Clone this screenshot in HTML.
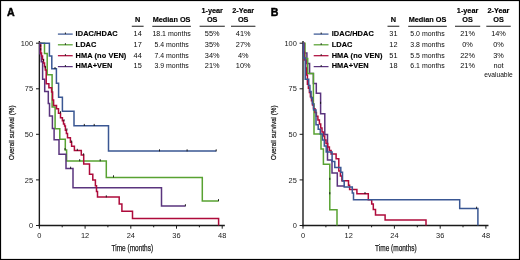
<!DOCTYPE html>
<html><head><meta charset="utf-8"><style>
html,body{margin:0;padding:0;background:#fff;}
body{width:520px;height:260px;overflow:hidden;}
svg{display:block;}
svg{will-change:transform;}
text{font-family:"Liberation Sans",sans-serif;fill:#1a1a1a;}
.pl{font-size:10.6px;font-weight:bold;fill:#000;stroke:#000;stroke-width:0.45px;}
.lg{font-size:7.4px;font-weight:bold;fill:#000;stroke:#000;stroke-width:0.15px;letter-spacing:0.08px;}
.hd{font-size:7.3px;font-weight:bold;fill:#000;stroke:#000;stroke-width:0.15px;}
.tv{font-size:7.35px;fill:#0a0a0a;}
.tk{font-size:8.0px;fill:#1a1a1a;}
.at{font-size:8.8px;fill:#1a1a1a;stroke:#1a1a1a;stroke-width:0.25px;}
.at2{font-size:7.5px;fill:#1a1a1a;stroke:#1a1a1a;stroke-width:0.25px;}
</style></head><body>
<svg width="520" height="260" viewBox="0 0 520 260">
<rect x="0.5" y="0.5" width="519" height="259" fill="#fff" stroke="#000" stroke-width="1.2"/>
<text x="7.0" y="16.1" class="pl">A</text>
<text x="270.8" y="16.1" class="pl">B</text>
<line x1="39.35" y1="41.0" x2="39.35" y2="226.2" stroke="#1a1a1a" stroke-width="1.4"/><line x1="38.65" y1="225.5" x2="224.83" y2="225.5" stroke="#1a1a1a" stroke-width="1.4"/><line x1="36.0" y1="225.5" x2="39.4" y2="225.5" stroke="#1a1a1a" stroke-width="1"/><text transform="translate(33.15,228.20) scale(0.93,1)" text-anchor="end" class="tk">0</text><line x1="36.0" y1="179.9" x2="39.4" y2="179.9" stroke="#1a1a1a" stroke-width="1"/><text transform="translate(33.15,182.62) scale(0.93,1)" text-anchor="end" class="tk">25</text><line x1="36.0" y1="134.3" x2="39.4" y2="134.3" stroke="#1a1a1a" stroke-width="1"/><text transform="translate(33.15,137.05) scale(0.93,1)" text-anchor="end" class="tk">50</text><line x1="36.0" y1="88.8" x2="39.4" y2="88.8" stroke="#1a1a1a" stroke-width="1"/><text transform="translate(33.15,91.48) scale(0.93,1)" text-anchor="end" class="tk">75</text><line x1="36.0" y1="43.2" x2="39.4" y2="43.2" stroke="#1a1a1a" stroke-width="1"/><text transform="translate(33.15,45.90) scale(0.93,1)" text-anchor="end" class="tk">100</text><line x1="39.4" y1="225.5" x2="39.4" y2="228.7" stroke="#1a1a1a" stroke-width="1"/><text transform="translate(39.35,238.10) scale(0.93,1)" text-anchor="middle" class="tk">0</text><line x1="62.2" y1="225.5" x2="62.2" y2="227.3" stroke="#1a1a1a" stroke-width="1"/><line x1="85.1" y1="225.5" x2="85.1" y2="228.7" stroke="#1a1a1a" stroke-width="1"/><text transform="translate(85.07,238.10) scale(0.93,1)" text-anchor="middle" class="tk">12</text><line x1="107.9" y1="225.5" x2="107.9" y2="227.3" stroke="#1a1a1a" stroke-width="1"/><line x1="130.8" y1="225.5" x2="130.8" y2="228.7" stroke="#1a1a1a" stroke-width="1"/><text transform="translate(130.79,238.10) scale(0.93,1)" text-anchor="middle" class="tk">24</text><line x1="153.7" y1="225.5" x2="153.7" y2="227.3" stroke="#1a1a1a" stroke-width="1"/><line x1="176.5" y1="225.5" x2="176.5" y2="228.7" stroke="#1a1a1a" stroke-width="1"/><text transform="translate(176.51,238.10) scale(0.93,1)" text-anchor="middle" class="tk">36</text><line x1="199.4" y1="225.5" x2="199.4" y2="227.3" stroke="#1a1a1a" stroke-width="1"/><line x1="222.2" y1="225.5" x2="222.2" y2="228.7" stroke="#1a1a1a" stroke-width="1"/><text transform="translate(222.23,238.10) scale(0.93,1)" text-anchor="middle" class="tk">48</text>
<line x1="303.00" y1="41.0" x2="303.00" y2="226.2" stroke="#1a1a1a" stroke-width="1.4"/><line x1="302.30" y1="225.5" x2="488.48" y2="225.5" stroke="#1a1a1a" stroke-width="1.4"/><line x1="299.6" y1="225.5" x2="303.0" y2="225.5" stroke="#1a1a1a" stroke-width="1"/><text transform="translate(296.80,228.20) scale(0.93,1)" text-anchor="end" class="tk">0</text><line x1="299.6" y1="179.9" x2="303.0" y2="179.9" stroke="#1a1a1a" stroke-width="1"/><text transform="translate(296.80,182.62) scale(0.93,1)" text-anchor="end" class="tk">25</text><line x1="299.6" y1="134.3" x2="303.0" y2="134.3" stroke="#1a1a1a" stroke-width="1"/><text transform="translate(296.80,137.05) scale(0.93,1)" text-anchor="end" class="tk">50</text><line x1="299.6" y1="88.8" x2="303.0" y2="88.8" stroke="#1a1a1a" stroke-width="1"/><text transform="translate(296.80,91.48) scale(0.93,1)" text-anchor="end" class="tk">75</text><line x1="299.6" y1="43.2" x2="303.0" y2="43.2" stroke="#1a1a1a" stroke-width="1"/><text transform="translate(296.80,45.90) scale(0.93,1)" text-anchor="end" class="tk">100</text><line x1="303.0" y1="225.5" x2="303.0" y2="228.7" stroke="#1a1a1a" stroke-width="1"/><text transform="translate(303.00,238.10) scale(0.93,1)" text-anchor="middle" class="tk">0</text><line x1="325.9" y1="225.5" x2="325.9" y2="227.3" stroke="#1a1a1a" stroke-width="1"/><line x1="348.7" y1="225.5" x2="348.7" y2="228.7" stroke="#1a1a1a" stroke-width="1"/><text transform="translate(348.72,238.10) scale(0.93,1)" text-anchor="middle" class="tk">12</text><line x1="371.6" y1="225.5" x2="371.6" y2="227.3" stroke="#1a1a1a" stroke-width="1"/><line x1="394.4" y1="225.5" x2="394.4" y2="228.7" stroke="#1a1a1a" stroke-width="1"/><text transform="translate(394.44,238.10) scale(0.93,1)" text-anchor="middle" class="tk">24</text><line x1="417.3" y1="225.5" x2="417.3" y2="227.3" stroke="#1a1a1a" stroke-width="1"/><line x1="440.2" y1="225.5" x2="440.2" y2="228.7" stroke="#1a1a1a" stroke-width="1"/><text transform="translate(440.16,238.10) scale(0.93,1)" text-anchor="middle" class="tk">36</text><line x1="463.0" y1="225.5" x2="463.0" y2="227.3" stroke="#1a1a1a" stroke-width="1"/><line x1="485.9" y1="225.5" x2="485.9" y2="228.7" stroke="#1a1a1a" stroke-width="1"/><text transform="translate(485.88,238.10) scale(0.93,1)" text-anchor="middle" class="tk">48</text>
<text x="132.3" y="250.8" class="at" text-anchor="middle" textLength="41.6" lengthAdjust="spacingAndGlyphs">Time (months)</text><text transform="translate(14.1,132.7) rotate(-90)" x="0" y="0" class="at2" text-anchor="middle" textLength="54.5" lengthAdjust="spacingAndGlyphs">Overall survival (%)</text>
<text x="395.9" y="250.8" class="at" text-anchor="middle" textLength="41.6" lengthAdjust="spacingAndGlyphs">Time (months)</text><text transform="translate(276.2,132.7) rotate(-90)" x="0" y="0" class="at2" text-anchor="middle" textLength="54.5" lengthAdjust="spacingAndGlyphs">Overall survival (%)</text>
<line x1="57.9" y1="34.1" x2="72.7" y2="34.1" stroke="#3a5793" stroke-width="1.25"/><line x1="65.4" y1="32.5" x2="65.4" y2="34.1" stroke="#111" stroke-width="0.9"/><text x="75.6" y="35.9" class="lg">IDAC/HDAC</text><text x="137.7" y="35.9" class="tv" text-anchor="middle">14</text><text x="171.6" y="35.9" class="tv" text-anchor="middle" textLength="38.45" lengthAdjust="spacingAndGlyphs">18.1 months</text><text x="212.2" y="35.9" class="tv" text-anchor="middle">55%</text><text x="243.2" y="35.9" class="tv" text-anchor="middle">41%</text><line x1="57.9" y1="44.8" x2="72.7" y2="44.8" stroke="#58a232" stroke-width="1.25"/><line x1="65.4" y1="43.2" x2="65.4" y2="44.8" stroke="#111" stroke-width="0.9"/><text x="75.6" y="46.6" class="lg">LDAC</text><text x="137.7" y="46.6" class="tv" text-anchor="middle">17</text><text x="171.6" y="46.6" class="tv" text-anchor="middle" textLength="34.36" lengthAdjust="spacingAndGlyphs">5.4 months</text><text x="212.2" y="46.6" class="tv" text-anchor="middle">35%</text><text x="243.2" y="46.6" class="tv" text-anchor="middle">27%</text><line x1="57.9" y1="55.7" x2="72.7" y2="55.7" stroke="#ae0b3b" stroke-width="1.25"/><line x1="65.4" y1="54.1" x2="65.4" y2="55.7" stroke="#111" stroke-width="0.9"/><text x="75.6" y="57.5" class="lg">HMA (no VEN)</text><text x="137.7" y="57.5" class="tv" text-anchor="middle">44</text><text x="171.6" y="57.5" class="tv" text-anchor="middle" textLength="34.36" lengthAdjust="spacingAndGlyphs">7.4 months</text><text x="212.2" y="57.5" class="tv" text-anchor="middle">34%</text><text x="243.2" y="57.5" class="tv" text-anchor="middle">4%</text><line x1="57.9" y1="66.6" x2="72.7" y2="66.6" stroke="#5a347e" stroke-width="1.25"/><line x1="65.4" y1="65.0" x2="65.4" y2="66.6" stroke="#111" stroke-width="0.9"/><text x="75.6" y="68.4" class="lg">HMA+VEN</text><text x="137.7" y="68.4" class="tv" text-anchor="middle">15</text><text x="171.6" y="68.4" class="tv" text-anchor="middle" textLength="34.36" lengthAdjust="spacingAndGlyphs">3.9 months</text><text x="212.2" y="68.4" class="tv" text-anchor="middle">21%</text><text x="243.2" y="68.4" class="tv" text-anchor="middle">10%</text><text x="137.7" y="21.6" class="hd" text-anchor="middle">N</text><text x="171.6" y="21.6" class="hd" text-anchor="middle">Median OS</text><text x="212.2" y="12.9" class="hd" text-anchor="middle">1-year</text><text x="212.2" y="21.6" class="hd" text-anchor="middle">OS</text><text x="243.2" y="12.9" class="hd" text-anchor="middle">2-Year</text><text x="243.2" y="21.6" class="hd" text-anchor="middle">OS</text><line x1="131.8" y1="26.3" x2="143.6" y2="26.3" stroke="#474747" stroke-width="1.25"/><line x1="152.3" y1="26.3" x2="190.9" y2="26.3" stroke="#474747" stroke-width="1.25"/><line x1="199.6" y1="26.3" x2="224.8" y2="26.3" stroke="#474747" stroke-width="1.25"/><line x1="231.0" y1="26.3" x2="255.4" y2="26.3" stroke="#474747" stroke-width="1.25"/>
<line x1="313.7" y1="34.1" x2="328.5" y2="34.1" stroke="#3a5793" stroke-width="1.25"/><line x1="321.2" y1="32.5" x2="321.2" y2="34.1" stroke="#111" stroke-width="0.9"/><text x="331.7" y="35.9" class="lg">IDAC/HDAC</text><text x="393.4" y="35.9" class="tv" text-anchor="middle">31</text><text x="427.5" y="35.9" class="tv" text-anchor="middle" textLength="34.36" lengthAdjust="spacingAndGlyphs">5.0 months</text><text x="467.6" y="35.9" class="tv" text-anchor="middle">21%</text><text x="498.5" y="35.9" class="tv" text-anchor="middle">14%</text><line x1="313.7" y1="44.8" x2="328.5" y2="44.8" stroke="#58a232" stroke-width="1.25"/><line x1="321.2" y1="43.2" x2="321.2" y2="44.8" stroke="#111" stroke-width="0.9"/><text x="331.7" y="46.6" class="lg">LDAC</text><text x="393.4" y="46.6" class="tv" text-anchor="middle">12</text><text x="427.5" y="46.6" class="tv" text-anchor="middle" textLength="34.36" lengthAdjust="spacingAndGlyphs">3.8 months</text><text x="467.6" y="46.6" class="tv" text-anchor="middle">0%</text><text x="498.5" y="46.6" class="tv" text-anchor="middle">0%</text><line x1="313.7" y1="55.7" x2="328.5" y2="55.7" stroke="#ae0b3b" stroke-width="1.25"/><line x1="321.2" y1="54.1" x2="321.2" y2="55.7" stroke="#111" stroke-width="0.9"/><text x="331.7" y="57.5" class="lg">HMA (no VEN)</text><text x="393.4" y="57.5" class="tv" text-anchor="middle">51</text><text x="427.5" y="57.5" class="tv" text-anchor="middle" textLength="34.36" lengthAdjust="spacingAndGlyphs">5.5 months</text><text x="467.6" y="57.5" class="tv" text-anchor="middle">22%</text><text x="498.5" y="57.5" class="tv" text-anchor="middle">3%</text><line x1="313.7" y1="66.6" x2="328.5" y2="66.6" stroke="#5a347e" stroke-width="1.25"/><line x1="321.2" y1="65.0" x2="321.2" y2="66.6" stroke="#111" stroke-width="0.9"/><text x="331.7" y="68.4" class="lg">HMA+VEN</text><text x="393.4" y="68.4" class="tv" text-anchor="middle">18</text><text x="427.5" y="68.4" class="tv" text-anchor="middle" textLength="34.36" lengthAdjust="spacingAndGlyphs">6.1 months</text><text x="467.6" y="68.4" class="tv" text-anchor="middle">21%</text><text x="498.5" y="68.4" class="tv" text-anchor="middle">not</text><text x="498.5" y="76.9" class="tv" text-anchor="middle" textLength="28.6" lengthAdjust="spacingAndGlyphs">evaluable</text><text x="393.4" y="21.6" class="hd" text-anchor="middle">N</text><text x="427.5" y="21.6" class="hd" text-anchor="middle">Median OS</text><text x="467.6" y="12.9" class="hd" text-anchor="middle">1-year</text><text x="467.6" y="21.6" class="hd" text-anchor="middle">OS</text><text x="498.5" y="12.9" class="hd" text-anchor="middle">2-Year</text><text x="498.5" y="21.6" class="hd" text-anchor="middle">OS</text><line x1="387.5" y1="26.3" x2="399.3" y2="26.3" stroke="#474747" stroke-width="1.25"/><line x1="408.2" y1="26.3" x2="446.8" y2="26.3" stroke="#474747" stroke-width="1.25"/><line x1="455.0" y1="26.3" x2="480.2" y2="26.3" stroke="#474747" stroke-width="1.25"/><line x1="486.3" y1="26.3" x2="510.7" y2="26.3" stroke="#474747" stroke-width="1.25"/>
<path d="M39.4,43.2 L44.5,43.2 L44.5,53.6 L47.2,53.6 L47.2,74.7 L52.1,74.7 L52.1,107.0 L55.1,107.0 L55.1,128.8 L59.8,128.8 L59.8,139.3 L65.3,139.3 L65.3,149.9 L66.6,149.9 L66.6,161.0 L106.3,161.0 L106.3,177.4 L202.3,177.4 L202.3,200.9 L218.5,200.9" fill="none" stroke="#58a232" stroke-width="1.5" stroke-linejoin="miter" stroke-linecap="butt"/>
<line x1="65.0" y1="148.1" x2="65.0" y2="150.2" stroke="#111" stroke-width="0.9"/><line x1="79.7" y1="159.2" x2="79.7" y2="161.3" stroke="#111" stroke-width="0.9"/><line x1="100.2" y1="159.2" x2="100.2" y2="161.3" stroke="#111" stroke-width="0.9"/><line x1="113.5" y1="175.3" x2="113.5" y2="177.4" stroke="#111" stroke-width="0.9"/><line x1="218.5" y1="199.1" x2="218.5" y2="201.2" stroke="#111" stroke-width="0.9"/>
<path d="M39.4,43.2 L39.8,43.2 L39.8,53.7 L41.3,53.7 L41.3,61.7 L42.6,61.7 L42.6,79.3 L44.7,79.3 L44.7,91.5 L48.3,91.5 L48.3,103.5 L49.5,103.5 L49.5,116.0 L52.4,116.0 L52.4,128.6 L54.1,128.6 L54.1,139.8 L59.0,139.8 L59.0,154.3 L66.0,154.3 L66.0,168.5 L73.0,168.5 L73.0,187.8 L161.5,187.8 L161.5,206.0 L185.4,206.0" fill="none" stroke="#5a347e" stroke-width="1.5" stroke-linejoin="miter" stroke-linecap="butt"/>
<line x1="70.6" y1="166.7" x2="70.6" y2="168.8" stroke="#111" stroke-width="0.9"/><line x1="185.4" y1="204.2" x2="185.4" y2="206.3" stroke="#111" stroke-width="0.9"/>
<path d="M39.4,43.2 L40.7,43.2 L40.7,53.0 L41.5,53.0 L41.5,56.0 L42.5,56.0 L42.5,59.5 L43.5,59.5 L43.5,63.0 L44.5,63.0 L44.5,66.5 L45.3,66.5 L45.3,70.0 L46.2,70.0 L46.2,83.8 L48.9,83.8 L48.9,87.7 L51.6,87.7 L51.6,92.0 L52.6,92.0 L52.6,100.0 L53.6,100.0 L53.6,105.5 L56.5,105.5 L56.5,108.8 L58.5,108.8 L58.5,113.2 L60.5,113.2 L60.5,117.7 L62.4,117.7 L62.4,120.8 L63.5,120.8 L63.5,124.0 L64.6,124.0 L64.6,126.0 L65.4,126.0 L65.4,130.2 L66.4,130.2 L66.4,133.5 L67.5,133.5 L67.5,137.7 L70.4,137.7 L70.4,142.3 L71.6,142.3 L71.6,146.3 L74.4,146.3 L74.4,150.6 L81.3,150.6 L81.3,155.1 L83.7,155.1 L83.7,164.0 L89.5,164.0 L89.5,174.2 L92.8,174.2 L92.8,180.0 L95.4,180.0 L95.4,185.8 L96.5,185.8 L96.5,191.5 L97.5,191.5 L97.5,197.1 L119.2,197.1 L119.2,204.1 L121.9,204.1 L121.9,211.3 L132.5,211.3 L132.5,218.4 L218.6,218.4 L218.6,225.5" fill="none" stroke="#ae0b3b" stroke-width="1.5" stroke-linejoin="miter" stroke-linecap="butt"/>
<line x1="83.6" y1="153.3" x2="83.6" y2="155.4" stroke="#111" stroke-width="0.9"/><line x1="106.3" y1="195.3" x2="106.3" y2="197.4" stroke="#111" stroke-width="0.9"/><line x1="40.7" y1="44.7" x2="40.7" y2="46.8" stroke="#111" stroke-width="0.9"/><line x1="40.7" y1="48.2" x2="40.7" y2="50.3" stroke="#111" stroke-width="0.9"/><line x1="43.5" y1="59.2" x2="43.5" y2="61.3" stroke="#111" stroke-width="0.9"/><line x1="45.3" y1="66.2" x2="45.3" y2="68.3" stroke="#111" stroke-width="0.9"/><line x1="60.5" y1="111.2" x2="60.5" y2="113.3" stroke="#111" stroke-width="0.9"/><line x1="64.0" y1="119.2" x2="64.0" y2="121.3" stroke="#111" stroke-width="0.9"/><line x1="66.9" y1="128.4" x2="66.9" y2="130.5" stroke="#111" stroke-width="0.9"/><line x1="71.6" y1="140.5" x2="71.6" y2="142.6" stroke="#111" stroke-width="0.9"/><line x1="77.3" y1="148.8" x2="77.3" y2="150.9" stroke="#111" stroke-width="0.9"/>
<path d="M39.4,43.2 L49.4,43.2 L49.4,56.0 L51.8,56.0 L51.8,68.8 L56.4,68.8 L56.4,83.2 L58.6,83.2 L58.6,97.3 L62.4,97.3 L62.4,111.3 L74.0,111.3 L74.0,125.7 L108.5,125.7 L108.5,151.1 L216.2,151.1" fill="none" stroke="#3a5793" stroke-width="1.5" stroke-linejoin="miter" stroke-linecap="butt"/>
<line x1="55.0" y1="67.0" x2="55.0" y2="69.1" stroke="#111" stroke-width="0.9"/><line x1="84.3" y1="123.9" x2="84.3" y2="126.0" stroke="#111" stroke-width="0.9"/><line x1="94.2" y1="123.9" x2="94.2" y2="126.0" stroke="#111" stroke-width="0.9"/><line x1="159.5" y1="149.3" x2="159.5" y2="151.4" stroke="#111" stroke-width="0.9"/><line x1="187.1" y1="149.3" x2="187.1" y2="151.4" stroke="#111" stroke-width="0.9"/><line x1="216.2" y1="149.3" x2="216.2" y2="151.4" stroke="#111" stroke-width="0.9"/>
<path d="M303.0,43.2 L303.3,43.2 L303.3,53.0 L306.9,53.0 L306.9,63.4 L309.6,63.4 L309.6,73.5 L313.4,73.5 L313.4,83.5 L316.3,83.5 L316.3,93.3 L320.6,93.3 L320.6,113.7 L324.8,113.7 L324.8,134.6 L327.5,134.6 L327.5,160.0 L332.0,160.0 L332.0,173.0 L337.3,173.0 L337.3,185.9 L345.0,185.9" fill="none" stroke="#5a347e" stroke-width="1.5" stroke-linejoin="miter" stroke-linecap="butt"/>
<line x1="320.6" y1="101.8" x2="320.6" y2="103.9" stroke="#111" stroke-width="0.9"/>
<path d="M303.0,43.2 L305.0,43.2 L305.0,58.5 L307.7,58.5 L307.7,73.5 L313.4,73.5 L313.4,104.0 L314.0,104.0 L314.0,134.0 L321.0,134.0 L321.0,149.0 L323.4,149.0 L323.4,164.2 L329.8,164.2 L329.8,209.7 L337.0,209.7 L337.0,225.5" fill="none" stroke="#58a232" stroke-width="1.5" stroke-linejoin="miter" stroke-linecap="butt"/>
<line x1="329.8" y1="177.8" x2="329.8" y2="179.9" stroke="#111" stroke-width="0.9"/><line x1="329.8" y1="192.2" x2="329.8" y2="194.3" stroke="#111" stroke-width="0.9"/>
<path d="M303.0,43.2 L304.0,43.2 L304.0,52.0 L304.4,52.0 L304.4,60.0 L305.8,60.0 L305.8,68.0 L306.4,68.0 L306.4,75.0 L307.4,75.0 L307.4,80.0 L307.4,84.2 L308.4,84.2 L308.4,88.3 L309.4,88.3 L309.4,92.5 L310.4,92.5 L310.4,96.7 L311.5,96.7 L311.5,100.8 L312.5,100.8 L312.5,105.0 L313.5,105.0 L313.5,108.8 L315.0,108.8 L315.0,112.5 L316.4,112.5 L316.4,116.3 L317.9,116.3 L317.9,120.0 L319.4,120.0 L319.4,124.0 L320.7,124.0 L320.7,128.0 L322.0,128.0 L322.0,132.0 L323.4,132.0 L323.4,136.0 L324.7,136.0 L324.7,140.0 L326.0,140.0 L326.0,143.5 L327.7,143.5 L327.7,147.1 L329.4,147.1 L329.4,150.6 L331.1,150.6 L331.1,154.1 L332.8,154.1 L336.1,154.1 L336.1,158.8 L338.8,158.8 L338.8,166.2 L338.8,171.0 L340.4,171.0 L340.4,175.9 L341.9,175.9 L341.9,180.7 L343.5,180.7 L348.5,180.7 L348.5,185.3 L349.6,185.3 L349.6,189.5 L356.9,189.5 L356.9,193.8 L368.3,193.8 L368.3,199.7 L371.7,199.7 L371.7,204.1 L373.3,204.1 L373.3,209.5 L375.5,209.5 L375.5,214.9 L385.1,214.9 L385.1,220.0 L426.0,220.0 L426.0,225.5" fill="none" stroke="#ae0b3b" stroke-width="1.5" stroke-linejoin="miter" stroke-linecap="butt"/>
<line x1="365.0" y1="192.0" x2="365.0" y2="194.1" stroke="#111" stroke-width="0.9"/>
<path d="M303.0,43.2 L303.7,43.2 L303.7,58.0 L305.2,58.0 L305.2,79.2 L308.7,79.2 L308.7,85.4 L309.9,85.4 L309.9,91.5 L311.1,91.5 L311.1,97.7 L312.4,97.7 L312.4,103.8 L313.6,103.8 L313.6,110.0 L314.8,110.0 L316.0,110.0 L316.0,120.0 L316.0,124.7 L318.2,124.7 L318.2,129.3 L320.3,129.3 L320.3,134.0 L322.5,134.0 L322.5,140.0 L324.3,140.0 L324.3,146.0 L326.2,146.0 L326.2,152.0 L328.0,152.0 L332.1,152.0 L332.1,161.5 L334.8,161.5 L334.8,167.6 L340.8,167.6 L340.8,172.3 L342.5,172.3 L342.5,181.0 L344.2,181.0 L344.2,187.0 L352.3,187.0 L352.3,193.0 L353.5,193.0 L353.5,199.7 L459.7,199.7 L459.7,208.5 L477.9,208.5 L477.9,225.5" fill="none" stroke="#3a5793" stroke-width="1.5" stroke-linejoin="miter" stroke-linecap="butt"/>
<line x1="476.6" y1="206.7" x2="476.6" y2="208.8" stroke="#111" stroke-width="0.9"/>
</svg>
</body></html>
